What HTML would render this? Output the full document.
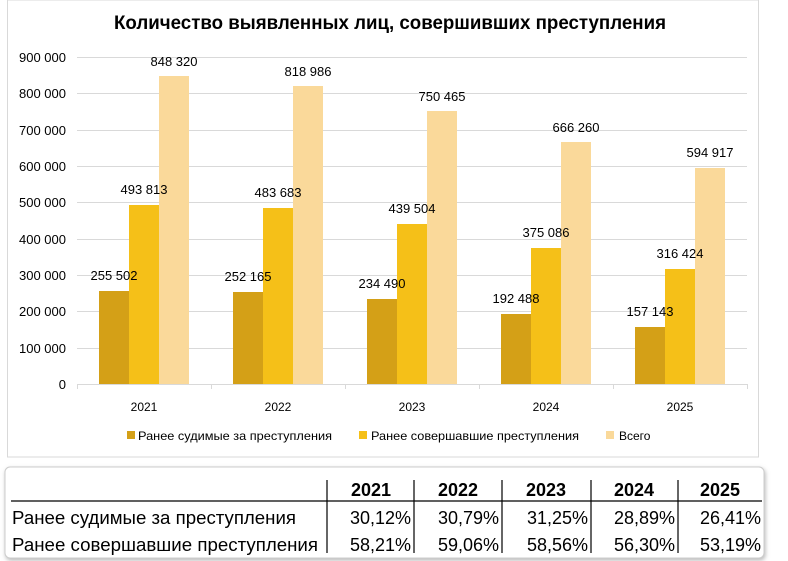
<!DOCTYPE html>
<html><head><meta charset="utf-8"><style>
body{margin:0;background:#fff;}
svg{display:block;font-family:"Liberation Sans",sans-serif;}
</style></head><body>
<svg width="788" height="561" viewBox="0 0 788 561">
<defs><filter id="sh" x="-5%" y="-10%" width="110%" height="130%"><feDropShadow dx="1" dy="2" stdDeviation="2" flood-color="#888" flood-opacity="0.6"/></filter></defs>
<rect x="7.5" y="0" width="751" height="457" fill="#fff" stroke="#d9d9d9"/>
<text x="390" y="29" font-size="19" font-weight="bold" text-anchor="middle" fill="#000" textLength="552" lengthAdjust="spacingAndGlyphs">Количество выявленных лиц, совершивших преступления</text>
<g stroke="#d9d9d9" stroke-width="1">
<line x1="77" x2="747" y1="57.5" y2="57.5"/><line x1="77" x2="747" y1="93.5" y2="93.5"/><line x1="77" x2="747" y1="130.5" y2="130.5"/><line x1="77" x2="747" y1="166.5" y2="166.5"/><line x1="77" x2="747" y1="202.5" y2="202.5"/><line x1="77" x2="747" y1="239.5" y2="239.5"/><line x1="77" x2="747" y1="275.5" y2="275.5"/><line x1="77" x2="747" y1="311.5" y2="311.5"/><line x1="77" x2="747" y1="348.5" y2="348.5"/><line x1="77" x2="747" y1="384.5" y2="384.5"/>
<line x1="77.5" x2="77.5" y1="384" y2="389"/><line x1="211.5" x2="211.5" y1="384" y2="389"/><line x1="345.5" x2="345.5" y1="384" y2="389"/><line x1="479.5" x2="479.5" y1="384" y2="389"/><line x1="613.5" x2="613.5" y1="384" y2="389"/><line x1="747.5" x2="747.5" y1="384" y2="389"/>
</g>
<g font-size="13" fill="#000" text-anchor="end">
<text x="66" y="62">900 000</text><text x="66" y="98">800 000</text><text x="66" y="135">700 000</text><text x="66" y="171">600 000</text><text x="66" y="207">500 000</text><text x="66" y="244">400 000</text><text x="66" y="280">300 000</text><text x="66" y="316">200 000</text><text x="66" y="353">100 000</text><text x="66" y="389">0</text>
</g>
<g>
<rect x="99" y="291" width="30" height="93" fill="#d4a017"/><rect x="129" y="205" width="30" height="179" fill="#f5c018"/><rect x="159" y="76" width="30" height="308" fill="#fad99a"/>
<rect x="233" y="292" width="30" height="92" fill="#d4a017"/><rect x="263" y="208" width="30" height="176" fill="#f5c018"/><rect x="293" y="86" width="30" height="298" fill="#fad99a"/>
<rect x="367" y="299" width="30" height="85" fill="#d4a017"/><rect x="397" y="224" width="30" height="160" fill="#f5c018"/><rect x="427" y="111" width="30" height="273" fill="#fad99a"/>
<rect x="501" y="314" width="30" height="70" fill="#d4a017"/><rect x="531" y="248" width="30" height="136" fill="#f5c018"/><rect x="561" y="142" width="30" height="242" fill="#fad99a"/>
<rect x="635" y="327" width="30" height="57" fill="#d4a017"/><rect x="665" y="269" width="30" height="115" fill="#f5c018"/><rect x="695" y="168" width="30" height="216" fill="#fad99a"/>
</g>
<g font-size="13" fill="#000" text-anchor="middle">
<text x="114" y="280">255 502</text><text x="144" y="194">493 813</text><text x="174" y="66">848 320</text>
<text x="248" y="281">252 165</text><text x="278" y="197">483 683</text><text x="308" y="76">818 986</text>
<text x="382" y="288">234 490</text><text x="412" y="213">439 504</text><text x="442" y="101">750 465</text>
<text x="516" y="303">192 488</text><text x="546" y="237">375 086</text><text x="576" y="132">666 260</text>
<text x="650" y="316">157 143</text><text x="680" y="258">316 424</text><text x="710" y="157">594 917</text>
</g>
<g font-size="12" fill="#000" text-anchor="middle">
<text x="144" y="411">2021</text><text x="278" y="411">2022</text><text x="412" y="411">2023</text><text x="546" y="411">2024</text><text x="680" y="411">2025</text>
</g>
<g font-size="12" fill="#000">
<rect x="127" y="431" width="8" height="8" fill="#d4a017"/><text x="138" y="440" textLength="194" lengthAdjust="spacingAndGlyphs">Ранее судимые за преступления</text>
<rect x="359" y="431" width="8" height="8" fill="#f5c018"/><text x="371" y="440" textLength="208" lengthAdjust="spacingAndGlyphs">Ранее совершавшие преступления</text>
<rect x="606" y="431" width="8" height="8" fill="#fad99a"/><text x="619" y="440">Всего</text>
</g>
<rect x="5" y="467" width="759" height="91" rx="5" fill="#fff" stroke="#ccc" filter="url(#sh)"/>
<g stroke="#000" stroke-width="1.2">
<line x1="11" x2="762" y1="501" y2="501"/>
<line x1="327" x2="327" y1="480" y2="553"/><line x1="414" x2="414" y1="480" y2="553"/><line x1="502" x2="502" y1="480" y2="553"/><line x1="591" x2="591" y1="480" y2="553"/><line x1="678" x2="678" y1="480" y2="553"/>
</g>
<g font-size="18" font-weight="bold" text-anchor="middle" fill="#000">
<text x="371" y="496">2021</text><text x="458" y="496">2022</text><text x="546" y="496">2023</text><text x="634" y="496">2024</text><text x="720" y="496">2025</text>
</g>
<g font-size="18" fill="#000">
<text x="12" y="524" textLength="284" lengthAdjust="spacingAndGlyphs">Ранее судимые за преступления</text>
<text x="12" y="551" textLength="306" lengthAdjust="spacingAndGlyphs">Ранее совершавшие преступления</text>
</g>
<g font-size="18" fill="#000" text-anchor="end">
<text x="411" y="524">30,12%</text><text x="499" y="524">30,79%</text><text x="588" y="524">31,25%</text><text x="675" y="524">28,89%</text><text x="761" y="524">26,41%</text>
<text x="411" y="551">58,21%</text><text x="499" y="551">59,06%</text><text x="588" y="551">58,56%</text><text x="675" y="551">56,30%</text><text x="761" y="551">53,19%</text>
</g>
</svg>
</body></html>
